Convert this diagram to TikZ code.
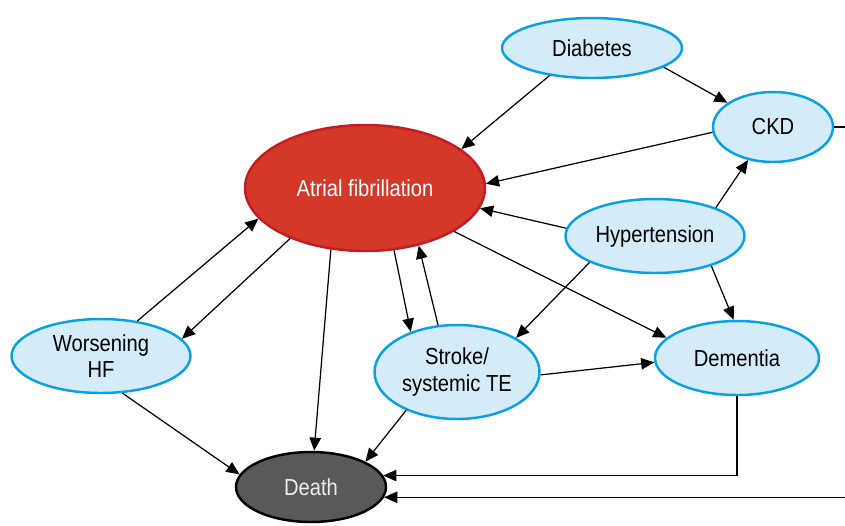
\documentclass[tikz,border=0pt]{standalone}
\usepackage{fontspec}
\setmainfont[FakeStretch=0.87]{Liberation Sans}
\usetikzlibrary{shapes.geometric,arrows.meta}
\definecolor{riskfill}{RGB}{212,236,250}
\definecolor{riskline}{RGB}{10,160,226}
\definecolor{affill}{RGB}{211,56,41}
\definecolor{afline}{RGB}{196,28,36}
\definecolor{deathfill}{RGB}{89,89,89}
\tikzset{
  riskbox/.style={ellipse, draw=riskline, fill=riskfill, line width=1.4pt, inner sep=0pt, align=center},
  conn/.style={-{Triangle[length=7.5pt,width=6.5pt]}, line width=0.7pt}
}
\begin{document}
\begin{tikzpicture}[x=0.02cm, y=-0.02cm, font=\fontsize{13.2}{15}\selectfont]
\useasboundingbox (0,0) rectangle (845,525);
\node[riskbox, minimum width=3.6cm, minimum height=1.2cm] (diab) at (592,48) {Diabetes};
\node[riskbox, minimum width=2.4cm, minimum height=1.4cm] (ckd) at (773,127) {CKD};
\node[ellipse, draw=afline, fill=affill, line width=1.4pt, text=white, minimum width=4.8cm, minimum height=2.52cm] (af) at (365,188) {Atrial fibrillation};
\node[riskbox, minimum width=3.58cm, minimum height=1.48cm] (htn) at (655,236) {Hypertension};
\node[riskbox, minimum width=3.58cm, minimum height=1.48cm] (hf) at (101,356) {Worsening\\HF};
\node[riskbox, minimum width=3.3cm, minimum height=1.88cm] (stroke) at (457,372) {Stroke/\\systemic TE};
\node[riskbox, minimum width=3.28cm, minimum height=1.48cm] (dem) at (737,358) {Dementia};
\node[ellipse, draw=black, fill=deathfill, line width=1.4pt, text=white!93!black, minimum width=3cm, minimum height=1.4cm] (death) at (311,487) {Death};
\draw[conn] (diab.213) -- (af.22);
\draw[conn] (diab.345) -- (ckd.152);
\draw[conn] (ckd.185) -- (af.2);
\draw[conn] (htn.25) -- (ckd.233);
\draw[conn] (htn.175) -- (af.350);
\draw[conn] (htn.202) -- (stroke.30);
\draw[conn] (htn.332) -- (dem.95);
\draw[conn] (af.334) -- (dem.164);
\draw[conn] (af.295) -- (stroke.139);
\draw[conn] (stroke.112) -- (af.313);
\draw[conn] (af.214) -- (hf.12);
\draw[conn] (hf.44) -- (af.196);
\draw[conn] (af.241) -- (death.85);
\draw[conn] (hf.300) -- (death.170);
\draw[conn] (stroke.217) -- (death.25);
\draw[conn] (stroke.358) -- (dem.183);
\draw[conn] (dem.south) |- (death.9);
\draw[conn] (ckd.east) -- ++(40,0) |- (death.352);
\end{tikzpicture}
\end{document}
